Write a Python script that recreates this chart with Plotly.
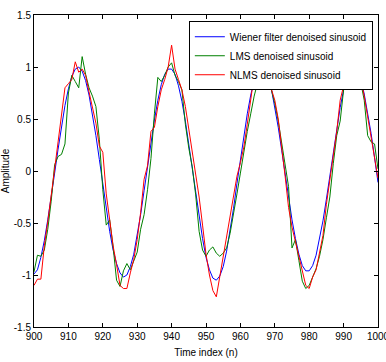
import plotly.graph_objects as go

time_index = list(range(900, 1001))

wiener = [-0.99, -0.95, -0.83, -0.67, -0.47, -0.26, -0.02, 0.21, 0.43, 0.63,
          0.79, 0.91, 0.98, 1.00, 0.96, 0.87, 0.73, 0.55, 0.34, 0.11,
          -0.13, -0.36, -0.58, -0.76, -0.89, -0.98, -1.02, -1.00, -0.92, -0.80,
          -0.62, -0.42, -0.19, 0.05, 0.28, 0.49, 0.68, 0.83, 0.93, 0.98,
          0.98, 0.93, 0.82, 0.67, 0.48, 0.26, 0.03, -0.21, -0.44, -0.65,
          -0.83, -0.95, -1.03, -1.05, -1.01, -0.92, -0.77, -0.58, -0.36, -0.12,
          0.12, 0.35, 0.55, 0.73, 0.87, 0.96, 1.00, 0.98, 0.91, 0.79,
          0.62, 0.42, 0.20, -0.03, -0.26, -0.47, -0.65, -0.80, -0.91, -0.96,
          -0.96, -0.91, -0.81, -0.66, -0.48, -0.27, -0.05, 0.19, 0.41, 0.61,
          0.78, 0.90, 0.98, 1.00, 0.96, 0.88, 0.74, 0.56, 0.36, 0.13,
          -0.11]

lms = [-0.97, -0.81, -0.82, -0.76, -0.56, -0.29, 0.06, 0.14, 0.16, 0.26,
       0.75, 0.92, 0.86, 0.80, 1.10, 0.93, 0.80, 0.72, 0.62, 0.30,
       -0.18, -0.52, -0.47, -0.73, -1.05, -1.11, -0.96, -0.89, -0.95, -0.86,
       -0.78, -0.56, -0.42, -0.18, 0.12, 0.55, 0.90, 0.86, 0.92, 1.00,
       1.04, 0.92, 0.86, 0.78, 0.45, 0.22, 0.04, -0.23, -0.58, -0.76,
       -0.82, -0.76, -0.73, -0.79, -0.82, -0.79, -0.74, -0.60, -0.42, -0.22,
       -0.02, 0.20, 0.38, 0.55, 0.72, 0.85, 1.00, 0.98, 0.90, 0.78,
       0.65, 0.48, 0.26, 0.07, -0.15, -0.74, -0.66, -0.86, -1.06, -1.13,
       -1.10, -1.02, -0.94, -0.82, -0.66, -0.45, -0.25, 0.07, 0.34, 0.48,
       0.78, 0.95, 1.02, 1.00, 0.96, 0.85, 0.68, 0.34, 0.28, 0.26,
       0.02]

nlms = [-1.10, -1.04, -1.04, -0.72, -0.49, -0.26, 0.02, 0.28, 0.55, 0.80,
        0.84, 0.88, 1.05, 0.95, 0.98, 0.92, 0.76, 0.62, 0.46, 0.24,
        0.18, -0.22, -0.46, -0.72, -0.90, -1.10, -1.13, -1.13, -0.98, -0.85,
        -0.66, -0.40, -0.08, 0.05, 0.38, 0.42, 0.62, 0.78, 0.88, 1.00,
        1.21, 0.98, 0.88, 0.78, 0.62, 0.40, 0.15, -0.05, -0.25, -0.52,
        -0.80, -1.00, -1.15, -1.21, -1.02, -0.82, -0.62, -0.44, -0.27, -0.05,
        0.08, 0.23, 0.45, 0.68, 0.92, 0.98, 1.05, 1.00, 0.90, 0.80,
        0.68, 0.50, 0.24, -0.05, -0.35, -0.54, -0.68, -0.82, -0.97, -1.10,
        -1.13, -1.02, -0.95, -0.80, -0.62, -0.32, -0.10, 0.12, 0.38, 0.68,
        0.82, 0.86, 0.98, 1.02, 0.98, 0.88, 0.72, 0.52, 0.33, 0.13,
        -0.07]

series_names = ["Wiener filter denoised sinusoid", "LMS denoised sinusoid", "NLMS denoised sinusoid"]
series_colors = ["#0000FF", "#008000", "#FF0000"]

x_tick_vals = [900, 910, 920, 930, 940, 950, 960, 970, 980, 990, 1000]
x_tick_text = ["900", "910", "920", "930", "940", "950", "960", "970", "980", "990", "1000"]
y_tick_vals = [-1.5, -1, -0.5, 0, 0.5, 1, 1.5]
y_tick_text = ["-1.5", "-1", "-0.5", "0", "0.5", "1", "1.5"]

FONT = "Liberation Sans, Arial, Helvetica, sans-serif"

fig = go.Figure()
for ys, name, color in zip([wiener, lms, nlms], series_names, series_colors):
    fig.add_trace(go.Scatter(x=time_index, y=ys, mode="lines", name=name,
                             line=dict(color=color, width=1)))

axis_common = dict(showline=True, linecolor="black", linewidth=1, mirror="ticks",
                   ticks="inside", ticklen=4, tickcolor="black", tickwidth=1,
                   showgrid=False, zeroline=False, ticklabeloverflow="allow",
                   automargin=False,
                   tickfont=dict(family=FONT, size=10, color="black"))

fig.update_xaxes(range=[900, 1000], tickvals=x_tick_vals, ticktext=x_tick_text,
                 title=dict(text="Time index (n)", font=dict(family=FONT, size=10, color="black"), standoff=7),
                 **axis_common)
fig.update_yaxes(range=[-1.5, 1.5], tickvals=y_tick_vals, ticktext=y_tick_text,
                 title=dict(text="Amplitude", font=dict(family=FONT, size=10, color="black"), standoff=2),
                 **axis_common)

fig.update_layout(
    width=386, height=362,
    margin=dict(l=34, r=8, t=15, b=35, autoexpand=False),
    paper_bgcolor="white", plot_bgcolor="white",
    font=dict(family=FONT, size=10, color="black"),
    showlegend=True,
    legend=dict(x=0.985, y=0.98, xanchor="right", yanchor="top",
                bgcolor="white", bordercolor="black", borderwidth=1,
                font=dict(family=FONT, size=10, color="black"),
                tracegroupgap=0),
)

fig.write_html("out.html")
